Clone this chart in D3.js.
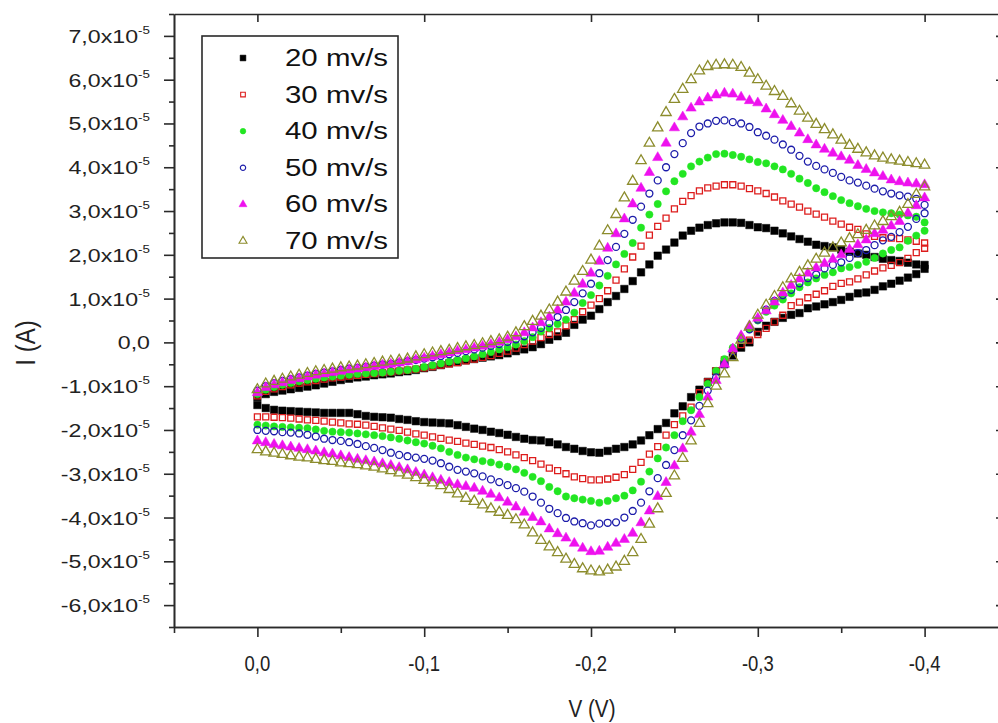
<!DOCTYPE html>
<html>
<head>
<meta charset="utf-8">
<script src="https://cdn.jsdelivr.net/npm/d3@7"></script>
<style>
  body { margin: 0; background: #fff; }
  svg { display: block; font-family: "Liberation Sans", Arial, sans-serif; }
</style>
</head>
<body>
<svg id="chart" width="998" height="723"></svg>
<script>
// potential (V), same grid for both sweep directions
const potential = [0,-0.005,-0.01,-0.015,-0.02,-0.025,-0.03,-0.035,-0.04,-0.045,
  -0.05,-0.055,-0.06,-0.065,-0.07,-0.075,-0.08,-0.085,-0.09,-0.095,
  -0.1,-0.105,-0.11,-0.115,-0.12,-0.125,-0.13,-0.135,-0.14,-0.145,
  -0.15,-0.155,-0.16,-0.165,-0.17,-0.175,-0.18,-0.185,-0.19,-0.195,
  -0.2,-0.205,-0.21,-0.215,-0.22,-0.225,-0.23,-0.235,-0.24,-0.245,
  -0.25,-0.255,-0.26,-0.265,-0.27,-0.275,-0.28,-0.285,-0.29,-0.295,
  -0.3,-0.305,-0.31,-0.315,-0.32,-0.325,-0.33,-0.335,-0.34,-0.345,
  -0.35,-0.355,-0.36,-0.365,-0.37,-0.375,-0.38,-0.385,-0.39,-0.395,
  -0.4];

const rates = ["20 mv/s", "30 mv/s", "40 mv/s", "50 mv/s", "60 mv/s", "70 mv/s"];

// current in units of 1e-5 A; fwd = upper branch, rev = lower branch
const fwd20 = [-1.25,-1.18,-1.13,-1.10,-1.07,-1.04,-1.01,-0.98,-0.94,-0.90,
  -0.86,-0.83,-0.80,-0.78,-0.75,-0.73,-0.71,-0.68,-0.66,-0.63,
  -0.59,-0.56,-0.52,-0.48,-0.45,-0.41,-0.38,-0.35,-0.32,-0.29,
  -0.25,-0.20,-0.16,-0.11,-0.04,0.06,0.14,0.22,0.40,0.52,
  0.61,0.76,0.92,1.06,1.22,1.40,1.60,1.78,1.98,2.12,
  2.28,2.44,2.55,2.62,2.68,2.72,2.74,2.74,2.73,2.68,
  2.63,2.61,2.55,2.49,2.42,2.36,2.30,2.23,2.20,2.17,
  2.12,2.07,2.03,2.00,1.95,1.91,1.88,1.86,1.82,1.78,
  1.77];
const rev20 = [-1.43,-1.50,-1.54,-1.56,-1.57,-1.58,-1.59,-1.60,-1.61,-1.61,
  -1.61,-1.61,-1.64,-1.68,-1.70,-1.71,-1.72,-1.75,-1.77,-1.80,
  -1.82,-1.83,-1.84,-1.85,-1.89,-1.93,-1.97,-2.00,-2.04,-2.07,
  -2.11,-2.16,-2.20,-2.23,-2.24,-2.28,-2.33,-2.39,-2.43,-2.48,
  -2.51,-2.52,-2.48,-2.43,-2.39,-2.33,-2.24,-2.12,-1.98,-1.84,
  -1.62,-1.46,-1.25,-1.08,-0.90,-0.66,-0.50,-0.30,-0.12,0.00,
  0.24,0.38,0.47,0.56,0.63,0.67,0.78,0.82,0.87,0.92,
  0.97,1.04,1.12,1.14,1.20,1.28,1.34,1.41,1.48,1.56,
  1.68];

const fwd30 = [-1.22,-1.12,-1.06,-1.01,-0.97,-0.93,-0.90,-0.87,-0.84,-0.81,
  -0.79,-0.77,-0.75,-0.73,-0.71,-0.69,-0.67,-0.65,-0.63,-0.61,
  -0.58,-0.55,-0.52,-0.49,-0.46,-0.42,-0.38,-0.34,-0.30,-0.25,
  -0.20,-0.13,-0.05,0.03,0.11,0.18,0.24,0.38,0.52,0.70,
  0.85,1.00,1.18,1.42,1.68,1.95,2.20,2.45,2.65,2.84,
  3.05,3.22,3.35,3.46,3.53,3.57,3.60,3.60,3.57,3.51,
  3.46,3.40,3.32,3.23,3.16,3.09,3.00,2.93,2.86,2.77,
  2.70,2.63,2.58,2.48,2.42,2.39,2.38,2.37,2.34,2.31,
  2.27];
const rev30 = [-1.70,-1.70,-1.71,-1.72,-1.73,-1.75,-1.77,-1.78,-1.80,-1.82,
  -1.84,-1.86,-1.87,-1.89,-1.92,-1.95,-1.98,-2.01,-2.05,-2.09,
  -2.12,-2.16,-2.19,-2.23,-2.26,-2.30,-2.33,-2.37,-2.40,-2.45,
  -2.50,-2.57,-2.63,-2.70,-2.78,-2.87,-2.93,-3.00,-3.07,-3.11,
  -3.14,-3.14,-3.12,-3.08,-3.02,-2.90,-2.74,-2.55,-2.38,-2.12,
  -1.88,-1.68,-1.48,-1.15,-0.90,-0.65,-0.40,-0.18,-0.05,0.05,
  0.18,0.32,0.47,0.62,0.84,0.92,1.02,1.10,1.18,1.28,
  1.35,1.38,1.45,1.54,1.63,1.70,1.76,1.82,1.92,2.05,
  2.15];

const fwd40 = [-1.18,-1.08,-1.02,-0.97,-0.93,-0.89,-0.86,-0.83,-0.80,-0.78,
  -0.76,-0.74,-0.72,-0.71,-0.70,-0.69,-0.67,-0.65,-0.63,-0.60,
  -0.56,-0.52,-0.48,-0.44,-0.40,-0.36,-0.32,-0.27,-0.22,-0.16,
  -0.11,-0.05,0.03,0.12,0.25,0.33,0.42,0.52,0.68,0.90,
  1.08,1.30,1.52,1.78,2.02,2.27,2.62,2.92,3.16,3.45,
  3.68,3.85,4.02,4.13,4.22,4.30,4.31,4.28,4.24,4.18,
  4.12,4.09,4.02,3.95,3.85,3.74,3.64,3.52,3.43,3.34,
  3.25,3.18,3.11,3.05,3.00,2.97,2.95,2.92,2.90,2.87,
  2.74];
const rev40 = [-1.88,-1.90,-1.92,-1.93,-1.94,-1.95,-1.96,-1.99,-2.02,-2.04,
  -2.05,-2.06,-2.08,-2.10,-2.12,-2.14,-2.17,-2.20,-2.24,-2.28,
  -2.31,-2.36,-2.42,-2.50,-2.57,-2.63,-2.67,-2.71,-2.74,-2.79,
  -2.84,-2.90,-2.98,-3.07,-3.17,-3.30,-3.40,-3.52,-3.56,-3.59,
  -3.62,-3.66,-3.62,-3.56,-3.50,-3.38,-3.18,-2.95,-2.65,-2.40,
  -2.12,-1.80,-1.55,-1.25,-0.95,-0.65,-0.38,-0.12,0.10,0.30,
  0.50,0.70,0.84,0.98,1.12,1.26,1.37,1.46,1.54,1.60,
  1.69,1.72,1.77,1.84,1.93,2.03,2.11,2.17,2.32,2.44,
  2.55];

const fwd50 = [-1.10,-1.00,-0.93,-0.88,-0.84,-0.80,-0.76,-0.72,-0.69,-0.66,
  -0.63,-0.60,-0.58,-0.56,-0.53,-0.51,-0.49,-0.46,-0.43,-0.40,
  -0.37,-0.34,-0.31,-0.27,-0.24,-0.20,-0.16,-0.12,-0.08,-0.04,
  0.01,0.07,0.14,0.23,0.33,0.44,0.58,0.74,0.92,1.12,
  1.34,1.58,1.88,2.18,2.48,2.80,3.10,3.40,3.70,4.00,
  4.30,4.55,4.78,4.93,5.00,5.06,5.07,5.03,5.00,4.92,
  4.80,4.72,4.63,4.52,4.40,4.26,4.13,4.03,3.95,3.87,
  3.78,3.70,3.65,3.58,3.51,3.45,3.40,3.36,3.33,3.28,
  3.14];
const rev50 = [-2.00,-2.02,-2.03,-2.05,-2.06,-2.08,-2.11,-2.15,-2.20,-2.23,
  -2.25,-2.28,-2.32,-2.37,-2.41,-2.46,-2.52,-2.57,-2.60,-2.63,
  -2.66,-2.70,-2.76,-2.84,-2.91,-2.95,-2.99,-3.06,-3.13,-3.19,
  -3.26,-3.33,-3.41,-3.52,-3.66,-3.80,-3.90,-4.01,-4.09,-4.13,
  -4.18,-4.14,-4.12,-4.11,-4.00,-3.85,-3.66,-3.40,-3.10,-2.80,
  -2.46,-2.12,-1.78,-1.45,-1.10,-0.80,-0.50,-0.20,0.08,0.30,
  0.52,0.75,0.95,1.08,1.20,1.35,1.47,1.55,1.69,1.77,
  1.83,1.93,2.04,2.11,2.22,2.33,2.41,2.52,2.64,2.82,
  2.95];

const fwd60 = [-1.15,-1.03,-0.97,-0.92,-0.87,-0.83,-0.79,-0.75,-0.72,-0.69,
  -0.66,-0.63,-0.61,-0.58,-0.55,-0.52,-0.50,-0.47,-0.44,-0.40,
  -0.36,-0.32,-0.28,-0.24,-0.20,-0.17,-0.13,-0.09,-0.05,0.00,
  0.06,0.13,0.22,0.33,0.45,0.58,0.74,0.92,1.12,1.33,
  1.58,1.85,2.15,2.48,2.82,3.16,3.52,3.88,4.22,4.55,
  4.90,5.15,5.35,5.49,5.58,5.65,5.69,5.67,5.60,5.52,
  5.47,5.33,5.20,5.07,4.93,4.78,4.63,4.51,4.41,4.32,
  4.24,4.16,4.04,3.95,3.87,3.79,3.71,3.67,3.64,3.62,
  3.60];
const rev60 = [-2.25,-2.29,-2.33,-2.36,-2.39,-2.42,-2.45,-2.48,-2.52,-2.55,
  -2.59,-2.63,-2.67,-2.70,-2.73,-2.77,-2.81,-2.86,-2.91,-2.97,
  -3.03,-3.09,-3.15,-3.20,-3.25,-3.29,-3.33,-3.40,-3.47,-3.55,
  -3.65,-3.76,-3.88,-4.00,-4.10,-4.26,-4.37,-4.47,-4.59,-4.70,
  -4.78,-4.77,-4.68,-4.59,-4.50,-4.36,-4.12,-3.85,-3.52,-3.20,
  -2.82,-2.43,-2.05,-1.65,-1.25,-0.87,-0.50,-0.15,0.15,0.38,
  0.55,0.72,0.92,1.13,1.30,1.45,1.58,1.70,1.80,1.90,
  2.00,2.12,2.23,2.34,2.48,2.56,2.66,2.76,2.95,3.12,
  3.30];

const fwd70 = [-1.08,-0.95,-0.89,-0.84,-0.79,-0.75,-0.71,-0.67,-0.64,-0.61,
  -0.58,-0.56,-0.54,-0.51,-0.48,-0.45,-0.43,-0.41,-0.38,-0.33,
  -0.28,-0.24,-0.21,-0.18,-0.14,-0.10,-0.07,-0.03,0.02,0.06,
  0.12,0.22,0.36,0.48,0.60,0.74,0.92,1.15,1.40,1.62,
  1.88,2.20,2.55,2.92,3.30,3.68,4.15,4.55,4.90,5.25,
  5.55,5.78,6.00,6.20,6.30,6.33,6.34,6.33,6.28,6.15,
  6.00,5.85,5.73,5.62,5.45,5.28,5.12,4.98,4.86,4.74,
  4.62,4.50,4.41,4.33,4.26,4.21,4.17,4.14,4.11,4.08,
  4.05];
const rev70 = [-2.45,-2.50,-2.53,-2.56,-2.59,-2.62,-2.64,-2.67,-2.70,-2.72,
  -2.75,-2.77,-2.79,-2.82,-2.85,-2.89,-2.93,-2.98,-3.03,-3.09,
  -3.15,-3.21,-3.27,-3.36,-3.46,-3.56,-3.63,-3.71,-3.80,-3.88,
  -3.95,-4.05,-4.17,-4.35,-4.52,-4.67,-4.80,-4.95,-5.07,-5.17,
  -5.22,-5.24,-5.20,-5.13,-5.00,-4.80,-4.50,-4.15,-3.80,-3.45,
  -3.05,-2.65,-2.25,-1.85,-1.40,-1.00,-0.72,-0.35,0.05,0.35,
  0.62,0.85,1.05,1.25,1.45,1.60,1.75,1.90,2.04,2.16,
  2.27,2.37,2.46,2.56,2.66,2.76,2.87,2.97,3.15,3.38,
  3.55];

const forward = [fwd20, fwd30, fwd40, fwd50, fwd60, fwd70];
const reverse = [rev20, rev30, rev40, rev50, rev60, rev70];

const xMajor = [0, -0.1, -0.2, -0.3, -0.4];
const xMinor = [0.05, -0.05, -0.15, -0.25, -0.35, -0.45];
const yMajor = [-6, -5, -4, -3, -2, -1, 0, 1, 2, 3, 4, 5, 6, 7];
const yMinor = [-6.5, -5.5, -4.5, -3.5, -2.5, -1.5, -0.5, 0.5, 1.5, 2.5, 3.5, 4.5, 5.5, 6.5, 7.5];

// marker look per series
const marks = [
  { shape: d3.symbolSquare,   color: "#000000", filled: true,  size: 56 },
  { shape: d3.symbolSquare,   color: "#dd1c1c", filled: false, size: 36 },
  { shape: d3.symbolCircle,   color: "#22e622", filled: true,  size: 42 },
  { shape: d3.symbolCircle,   color: "#1c1caa", filled: false, size: 38 },
  { shape: d3.symbolTriangle, color: "#ee11ee", filled: true,  size: 46 },
  { shape: d3.symbolTriangle, color: "#8c8c2c", filled: false, size: 46 },
];

const svg = d3.select("#chart");
const plotLeft = 174, plotRight = 1008, plotTop = 14, plotBottom = 627;

const x = d3.scaleLinear().domain([0.05, -0.45]).range([plotLeft, plotRight]);
const y = d3.scaleLinear().domain([-6.5, 7.5]).range([plotBottom, plotTop]);

const frameColor = "#2a2a2a";

// axes (ticks only, labels drawn below)
function styleAxis(g) {
  g.selectAll("path, line").attr("stroke", frameColor).attr("stroke-width", 1.6);
}
svg.append("g").attr("transform", `translate(0,${plotBottom})`)
  .call(d3.axisBottom(x).tickValues(xMajor).tickSize(10).tickSizeOuter(0).tickFormat(""))
  .call(styleAxis);
svg.append("g").attr("transform", `translate(0,${plotBottom})`)
  .call(d3.axisBottom(x).tickValues(xMinor).tickSize(6).tickSizeOuter(0).tickFormat(""))
  .call(styleAxis);
svg.append("g").attr("transform", `translate(0,${plotTop})`)
  .call(d3.axisTop(x).tickValues(xMajor).tickSize(-8).tickSizeOuter(0).tickFormat(""))
  .call(styleAxis);
svg.append("g").attr("transform", `translate(${plotLeft},0)`)
  .call(d3.axisLeft(y).tickValues(yMajor).tickSize(10).tickSizeOuter(0).tickFormat(""))
  .call(styleAxis);
svg.append("g").attr("transform", `translate(${plotLeft},0)`)
  .call(d3.axisLeft(y).tickValues(yMinor).tickSize(5).tickSizeOuter(0).tickFormat(""))
  .call(styleAxis);
svg.append("g").attr("transform", `translate(${plotRight},0)`)
  .call(d3.axisRight(y).tickValues(yMajor).tickSize(-12).tickSizeOuter(0).tickFormat(""))
  .call(styleAxis);

// y tick labels, wide look like the original
const fmt = (v) => v.toFixed(1).replace(".", ",");
const yLab = svg.append("g").attr("fill", "#222");
yMajor.forEach((v) => {
  const t = yLab.append("text")
    .attr("transform", `translate(150,${y(v) + 7}) scale(1.22,1)`)
    .attr("text-anchor", "end")
    .attr("font-size", 19);
  if (v === 0) {
    t.text("0,0");
  } else {
    t.append("tspan").text(fmt(v) + "x10");
    t.append("tspan").attr("font-size", 11).attr("dy", -9).text("-5");
  }
});

// x tick labels, narrow
const xLab = svg.append("g").attr("fill", "#222");
xMajor.forEach((v) => {
  xLab.append("text")
    .attr("transform", `translate(${x(v)},671) scale(0.84,1)`)
    .attr("text-anchor", "middle")
    .attr("font-size", 22)
    .text(fmt(v));
});

// axis titles
svg.append("text")
  .attr("transform", "translate(592,717) scale(0.86,1)")
  .attr("text-anchor", "middle")
  .attr("font-size", 24)
  .attr("fill", "#222")
  .text("V (V)");
svg.append("text")
  .attr("transform", "translate(35,343) rotate(-90) scale(1,1.15)")
  .attr("text-anchor", "middle")
  .attr("font-size", 24)
  .attr("fill", "#222")
  .text("I (A)");

// scatter points, 20 mv/s first so 70 mv/s sits on top
const plot = svg.append("g");
rates.forEach((name, k) => {
  const pts = potential.map((v, i) => ({ v, c: forward[k][i] }))
    .concat(potential.map((v, i) => ({ v, c: reverse[k][i] })));
  const m = marks[k];
  const sym = d3.symbol().type(m.shape).size(m.size);
  plot.append("g").selectAll("path")
    .data(pts)
    .join("path")
    .attr("transform", (d) => `translate(${x(d.v)},${y(d.c)})`)
    .attr("d", sym)
    .attr("fill", m.filled ? m.color : "none")
    .attr("stroke", m.color)
    .attr("stroke-width", m.filled ? 0.5 : 1.3);
});

// legend
const legend = svg.append("g");
legend.append("rect")
  .attr("x", 202).attr("y", 36).attr("width", 196).attr("height", 222)
  .attr("fill", "#fff").attr("stroke", frameColor).attr("stroke-width", 1.6);
rates.forEach((name, k) => {
  const cy = 58 + k * 36.6;
  const m = marks[k];
  legend.append("path")
    .attr("transform", `translate(243,${cy})`)
    .attr("d", d3.symbol().type(m.shape).size(m.size * 0.6))
    .attr("fill", m.filled ? m.color : "none")
    .attr("stroke", m.color)
    .attr("stroke-width", m.filled ? 0.5 : 1.1);
  legend.append("text")
    .attr("transform", `translate(285,${cy + 8}) scale(1.28,1)`)
    .attr("font-size", 23)
    .attr("fill", "#111")
    .text(name);
});
</script>
</body>
</html>
